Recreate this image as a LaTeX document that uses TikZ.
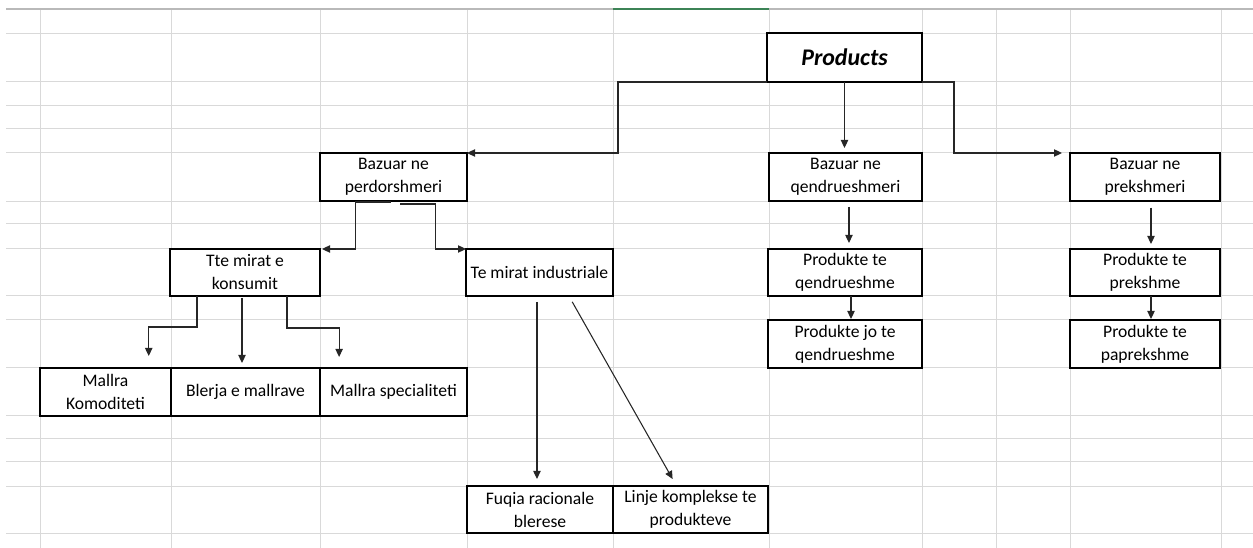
\documentclass[tikz,border=0pt]{standalone}
\usepackage{fontspec}
\setmainfont{Carlito}
\usetikzlibrary{arrows.meta,calc}
\definecolor{GridGray}{HTML}{D9D9D9}
\definecolor{ExcelGreen}{HTML}{3C8356}
\newcommand{\cellfont}{\fontsize{13.2}{17.25}\selectfont}

\begin{document}
\begin{tikzpicture}[x=0.75pt, y=-0.75pt,
    box/.style={draw, line width=1.5pt, fill=white, align=center, inner sep=0pt, outer sep=0pt, font=\cellfont},
    sz/.style 2 args={minimum width=#1*0.75pt, minimum height=#2*0.75pt},
    conn/.style={draw=black!85, line width=0.8pt, -{Triangle[length=6pt,width=5.5pt]}}]
    \useasboundingbox (0,0) rectangle (1253,548);
    \foreach \y in {34,82,106,129,153,202,224,249,296,320,368,416,439,462,487,534}
        \draw[GridGray, line width=0.75pt] (6,\y) -- (1253,\y);
    \foreach \x in {40,171,320,467,613,769,922,996,1070,1221}
        \draw[GridGray, line width=0.75pt] (\x,9) -- (\x,548);
    \draw[gray!55, line width=1.5pt] (6,9) -- (1253,9);
    \draw[ExcelGreen, line width=1.5pt] (613,9) -- (769,9);

    \node[box, sz={155}{49}, font=\fontsize{17.9}{20}\selectfont\bfseries\itshape] (prod) at (844.5,57.5) {Products};

    \node[box, sz={147}{48}] (perd) at (393.5,177) {Bazuar ne\\perdorshmeri};
    \node[box, sz={153}{48}] (qend) at (845.5,177) {Bazuar ne\\qendrueshmeri};
    \node[box, sz={150}{48}] (prek) at (1145,177) {Bazuar ne\\prekshmeri};

    \node[box, sz={150}{47}] (tte) at (245,272.5) {Tte mirat e\\konsumit};
    \node[box, sz={147}{47}] (ind) at (539.5,272.5) {Te mirat industriale};
    \node[box, sz={154}{47}] (qprod) at (845,272.5) {Produkte te\\qendrueshme};
    \node[box, sz={154}{48}] (jqprod) at (845,344) {Produkte jo te\\qendrueshme};
    \node[box, sz={150}{47}] (pprod) at (1145,272.5) {Produkte te\\prekshme};
    \node[box, sz={150}{48}] (npprod) at (1145,344) {Produkte te\\paprekshme};

    \node[box, sz={131}{48}] (kom) at (105.5,392) {Mallra\\Komoditeti};
    \node[box, sz={149}{48}] (blerja) at (245.5,392) {Blerja e mallrave};
    \node[box, sz={147}{48}] (spec) at (393.5,392) {Mallra specialiteti};

    \node[box, sz={146}{47}] (fuqia) at (540,509.5) {Fuqia racionale\\blerese};
    \node[box, sz={155}{47}] (linje) at (690.5,509.5) {Linje komplekse te\\produkteve};

    \draw[conn] (prod.south west) -- ++(-149,0) |- (perd.north east);
    \draw[conn, shorten >=3.75pt] (prod.south) -- (prod.south |- qend.north);
    \draw[conn, shorten >=6pt] (prod.south east) -- ++(32,0) |- (prek.north west);

    \draw[conn, shorten <=4.5pt, shorten >=4.5pt] ([xshift=2.6pt]qend.south) -- ([xshift=2.6pt]qend.south |- qprod.north);
    \draw[conn, shorten >=0.75pt] ([xshift=4.5pt]qprod.south) -- ([xshift=4.5pt]qprod.south |- jqprod.north);
    \draw[conn, shorten <=5pt, shorten >=3.75pt] ([xshift=4.5pt]prek.south) -- ([xshift=4.5pt]prek.south |- pprod.north);
    \draw[conn, shorten >=0.75pt] ([xshift=4.5pt]pprod.south) -- ([xshift=4.5pt]pprod.south |- npprod.north);

    \draw[conn, shorten >=1.5pt] ([xshift=-2pt, yshift=-0.75pt]perd.south) -- ++(-35,0) |- (tte.north east);
    \draw[conn] ([xshift=5pt, yshift=-2.25pt]perd.south) -- ++(35,0) |- (ind.north west);

    \draw[conn, shorten >=9pt] ([xshift=-36pt]tte.south) -- ++(0,31) -| ($(kom.north west)!0.83!(kom.north east)$);
    \draw[conn, shorten <=1.5pt, shorten >=3.75pt] ([xshift=-2.25pt]tte.south) -- ([xshift=-2.25pt]tte.south |- blerja.north);
    \draw[conn, shorten >=8.25pt] ([xshift=31.5pt]tte.south) -- ++(0,32) -| ($(spec.north west)!0.13!(spec.north east)$);

    \draw[conn, shorten <=4.5pt, shorten >=5.25pt] ([xshift=-1.9pt]ind.south) -- ([xshift=-1.9pt]ind.south |- fuqia.north);
    \draw[conn, shorten <=5pt, shorten >=6pt] ($(ind.south west)!0.70!(ind.south east)$) -- ($(linje.north west)!0.41!(linje.north east)$);
\end{tikzpicture}
\end{document}
